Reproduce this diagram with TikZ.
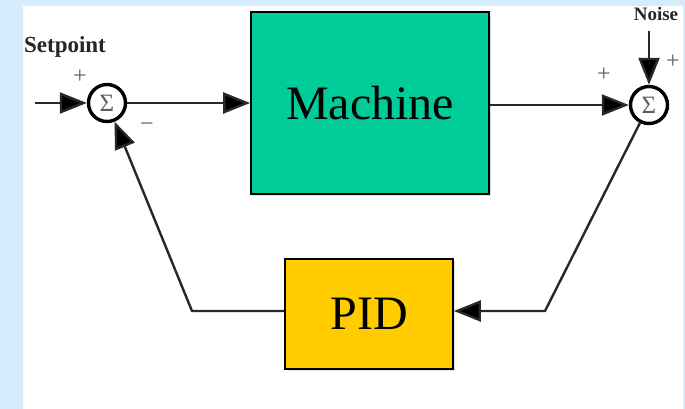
\documentclass[tikz,border=0pt]{standalone}
\usepackage{fontspec}
\setmainfont{Liberation Serif}
\usetikzlibrary{arrows.meta,shadows,calc}

\definecolor{pagebg}{RGB}{212,236,252}
\definecolor{machinefill}{RGB}{0,204,153}
\definecolor{pidfill}{RGB}{255,204,0}
\definecolor{wire}{RGB}{40,40,40}
\definecolor{signgray}{RGB}{95,95,95}

\tikzset{
  block/.style={draw=black, line width=1.8pt, inner sep=0pt,
    drop shadow={opacity=0.25, shadow xshift=1.5pt, shadow yshift=-1.5pt},
    font=\fontsize{48}{48}\selectfont},
  summer/.style={circle, draw=black, line width=3.4pt, fill=white,
    minimum size=37pt, inner sep=0pt,
    font=\fontsize{25}{25}\selectfont, text=signgray},
  wireline/.style={draw=wire, line width=2.4pt,
    -{Triangle[length=27pt,width=21pt,fill=black]}},
  sign/.style={text=signgray, inner sep=0pt, font=\fontsize{24}{24}\selectfont},
  lbl/.style={inner sep=0pt, text=black!85}
}

\begin{document}
\begin{tikzpicture}[x=1pt,y=-1pt]
  % page and panel
  \fill[pagebg] (0,0) rectangle (685,409);
  \fill[white] (23,6) rectangle (683,409);
  \useasboundingbox (0,0) rectangle (685,409);

  % blocks
  \node[block, fill=machinefill, minimum width=238pt, minimum height=182pt]
    (machine) at (370,103) {Machine};
  \node[block, fill=pidfill, minimum width=168pt, minimum height=110pt]
    (pid) at (369,314) {PID};

  % summing junctions
  \node[summer] (s1) at (107,103) {Σ};
  \node[summer] (s2) at (649,105) {Σ};

  % labels
  \node[lbl, font=\bfseries\fontsize{23}{23}\selectfont] (setpoint) at (65,47) {Setpoint};
  \node[lbl, font=\bfseries\fontsize{19}{19}\selectfont] (noise) at (656,14) {Noise};
  \node[sign] (p1) at (80,77) {+};
  \node[sign] (m1) at (147,127) {−};
  \node[sign] (p2) at (604,75) {+};
  \node[sign] (p3) at (673,62) {+};

  % free ends and corners
  \coordinate (in) at (35,103);
  \coordinate (noisein) at (649,31);
  \coordinate (c1) at (545,311);
  \coordinate (c2) at (192,311);

  % forward path
  \draw[wireline] (in) -- (s1);
  \draw[wireline] (s1) -- (machine.west);
  \draw[wireline] (machine.east |- s2) -- (s2);
  \draw[wireline] (noisein) -- (s2);

  % feedback path
  \draw[wireline] (s2) -- (c1) -- (c1 -| pid.east);
  \draw[wireline] (c2 -| pid.west) -- (c2) -- (s1);
\end{tikzpicture}
\end{document}
